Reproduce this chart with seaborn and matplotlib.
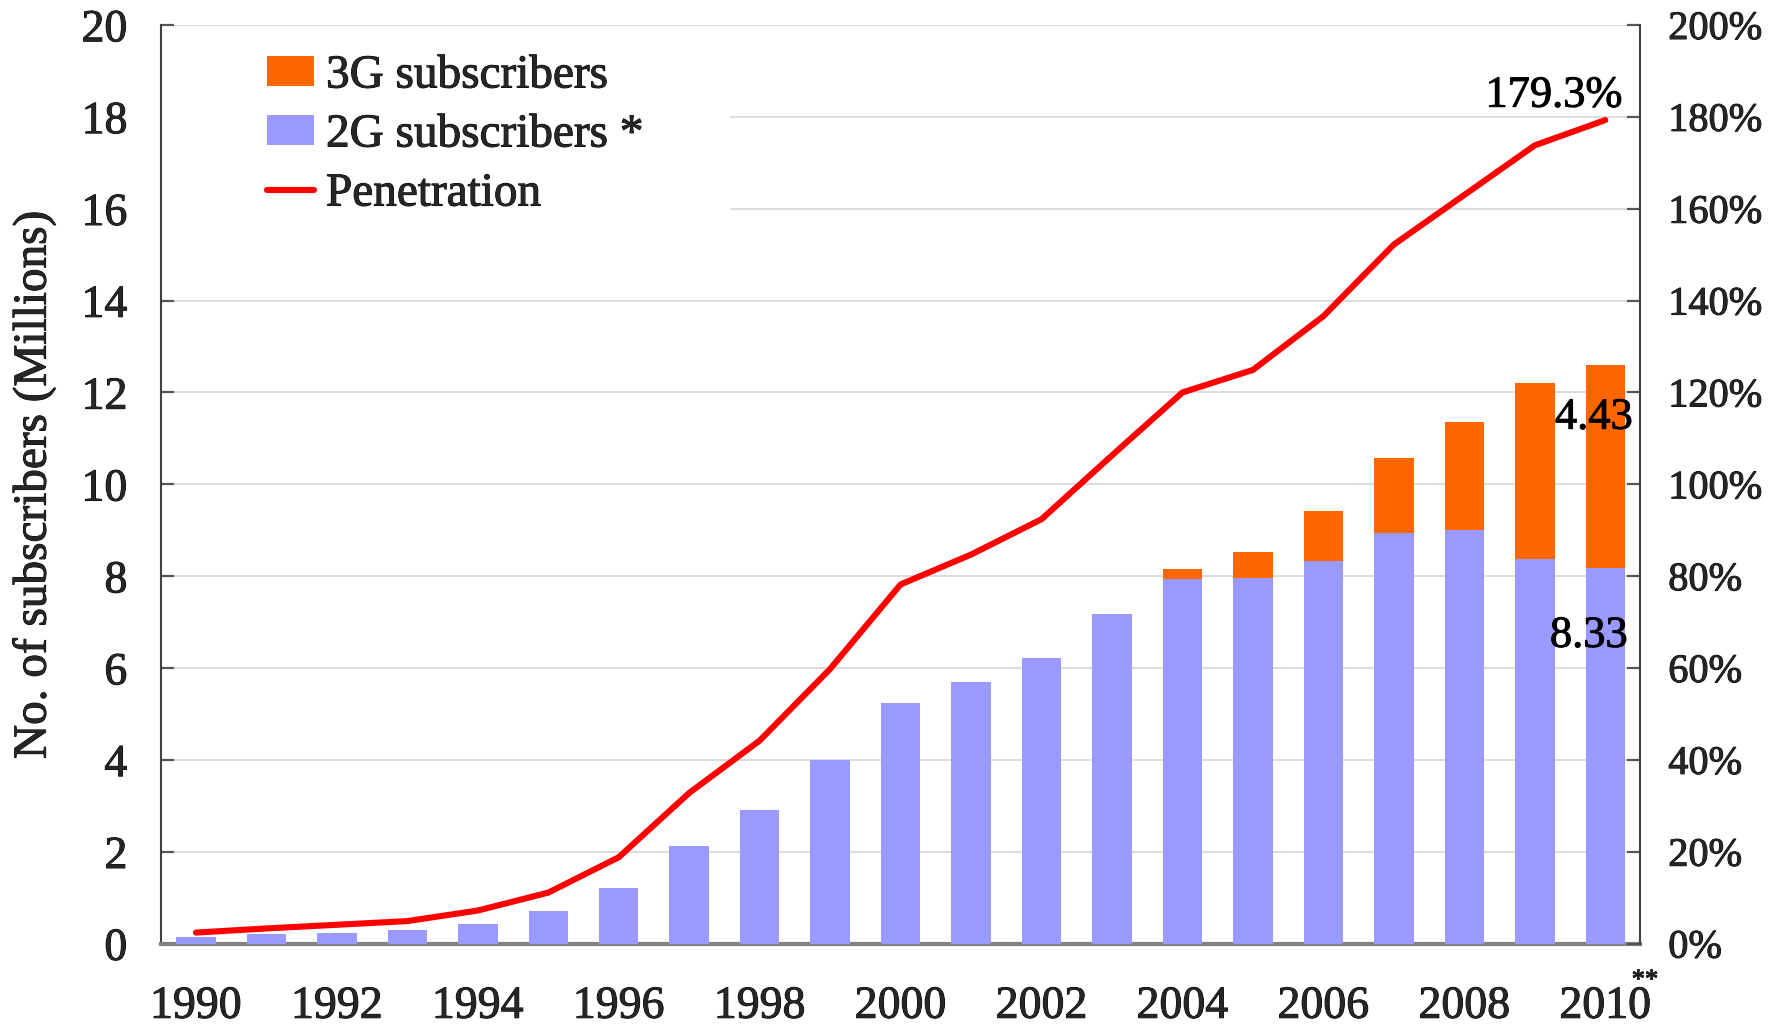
import numpy as np
import pandas as pd
import matplotlib
matplotlib.use("Agg")
import matplotlib.pyplot as plt
import matplotlib.text as mtext
import matplotlib.patheffects as pe
import seaborn as sns
from matplotlib.patches import Patch, Rectangle
from matplotlib.lines import Line2D
from matplotlib.ticker import FuncFormatter

years = list(range(1990, 2011))
subs_2g = [0.15, 0.20, 0.24, 0.30, 0.43, 0.70, 1.22, 2.13, 2.91, 4.00, 5.24,
           5.70, 6.22, 7.18, 7.94, 7.96, 8.34, 8.95, 9.01, 8.38, 8.17]
subs_3g = [0, 0, 0, 0, 0, 0, 0, 0, 0, 0, 0,
           0, 0, 0, 0.22, 0.57, 1.08, 1.62, 2.35, 3.82, 4.43]
penetration = [2.4, 3.3, 4.1, 4.9, 7.2, 11.1, 18.8, 32.8, 44.2, 59.8, 78.2,
               84.7, 92.4, 106.3, 120.0, 124.9, 136.6, 152.2, 163.0, 173.8, 179.3]
label_years = [str(y) for y in years[::2]]

C2G = "#9999FF"
C3G = "#FF6600"
CLINE = "#FF0000"

df = pd.DataFrame({
    "year": [str(y) for y in years],
    "g2": subs_2g,
    "total": np.array(subs_2g) + np.array(subs_3g),
    "pos": np.arange(len(years)),
    "pen": penetration,
})

sns.set_theme(style="white")
plt.rcParams["font.family"] = ["Liberation Serif", "DejaVu Serif"]

W, H = 1774, 1025
fig = plt.figure(figsize=(W / 100, H / 100), dpi=100)
x0, x1, ytop, ybot = 160.7, 1640.5, 25.0, 943.6
ax = fig.add_axes([x0 / W, 1 - ybot / H, (x1 - x0) / W, (ybot - ytop) / H])

sns.barplot(data=df, x="year", y="total", color=C3G, width=0.56, saturation=1,
            errorbar=None, ax=ax, zorder=2, linewidth=0)
sns.barplot(data=df, x="year", y="g2", color=C2G, width=0.56, saturation=1,
            errorbar=None, ax=ax, zorder=3, linewidth=0)

ax.set_xlim(-0.5, 20.5)
ax.set_ylim(0, 20)
ax.set_yticks(range(0, 21, 2))
ax.set_xticks(range(0, 21, 2))
ax.set_xticklabels(label_years)
ax.set_xticks(np.arange(0.5, 20, 1), minor=True)
ax.tick_params(axis="x", which="major", length=0, pad=30, labelsize=33)
ax.tick_params(axis="x", which="minor", direction="in", length=10, width=1.3,
               color="#333333")
ax.tick_params(axis="y", direction="in", length=9.5, width=1.6, color="#555555",
               pad=24, labelsize=33)
ax.grid(axis="y", color="#D9D9D9", linewidth=1.3)
ax.set_axisbelow(True)
ax.set_xlabel("")
ax.set_ylabel("No. of subscribers (Millions)", fontsize=34)
ax.yaxis.set_label_coords(-0.071, 0.5)
for s in ["top", "right"]:
    ax.spines[s].set_visible(False)
ax.spines["left"].set_color("#404040")
ax.spines["left"].set_linewidth(1.5)
ax.spines["bottom"].set_color("#808080")
ax.spines["bottom"].set_linewidth(3)

ax2 = ax.twinx()
sns.lineplot(data=df, x="pos", y="pen", ax=ax2, color=CLINE, linewidth=4.4,
             solid_capstyle="round", zorder=5)
ax2.set_xlim(-0.5, 20.5)
ax2.set_ylim(0, 200)
ax2.set_yticks(range(0, 201, 20))
ax2.yaxis.set_major_formatter(FuncFormatter(lambda v, p: f"{v:.0f}%"))
ax2.tick_params(axis="y", direction="in", length=9.5, width=1.6, color="#555555",
                pad=20, labelsize=29)
ax2.set_ylabel("")
ax2.set_xlabel("")
ax2.grid(False)
for s in ["top", "left", "bottom"]:
    ax2.spines[s].set_visible(False)
ax2.spines["right"].set_color("#404040")
ax2.spines["right"].set_linewidth(1.5)

# annotations
ax2.text(20.24, 184.6, "179.3%", ha="right", va="center", fontsize=32, color="black")
ax.text(20.39, 11.45, "4.43", ha="right", va="center", fontsize=32, color="black", zorder=6)
ax.text(20.32, 6.70, "8.33", ha="right", va="center", fontsize=32, color="black", zorder=6)
fig.text(1645 / W, 1 - 981 / H, "**", ha="center", va="center", fontsize=19)

# legend background covering gridlines
ax.add_patch(Rectangle((x0 / W + 0.001, 1 - 222 / H), (728 - x0) / W, (222 - 32) / H,
                       transform=fig.transFigure, facecolor="white", edgecolor="none",
                       zorder=1.5))
handles = [Patch(facecolor=C3G, edgecolor="none"),
           Patch(facecolor=C2G, edgecolor="none"),
           Line2D([], [], color=CLINE, linewidth=4.4, solid_capstyle="round")]
labels = ["3G subscribers", "2G subscribers *", "Penetration"]
leg = ax.legend(handles, labels, loc="upper left",
                bbox_to_anchor=(267 / W, 1 - 55 / H), bbox_transform=fig.transFigure,
                frameon=False, fontsize=34, handlelength=1.0, handleheight=0.62,
                handletextpad=0.25, labelspacing=0.35, borderpad=0, borderaxespad=0)
leg.set_zorder(7)

# slightly heavier glyphs, like the reference's serif face
fig.canvas.draw()
effect = [pe.withStroke(linewidth=0.7, foreground="black")]
for axis_obj in (ax.xaxis, ax.yaxis, ax2.yaxis):
    for lbl in axis_obj.get_ticklabels(which="both"):
        lbl.set_path_effects(effect)
for t in fig.findobj(mtext.Text):
    if t.get_text():
        t.set_path_effects(effect)

fig.savefig("out.png", dpi=100)
